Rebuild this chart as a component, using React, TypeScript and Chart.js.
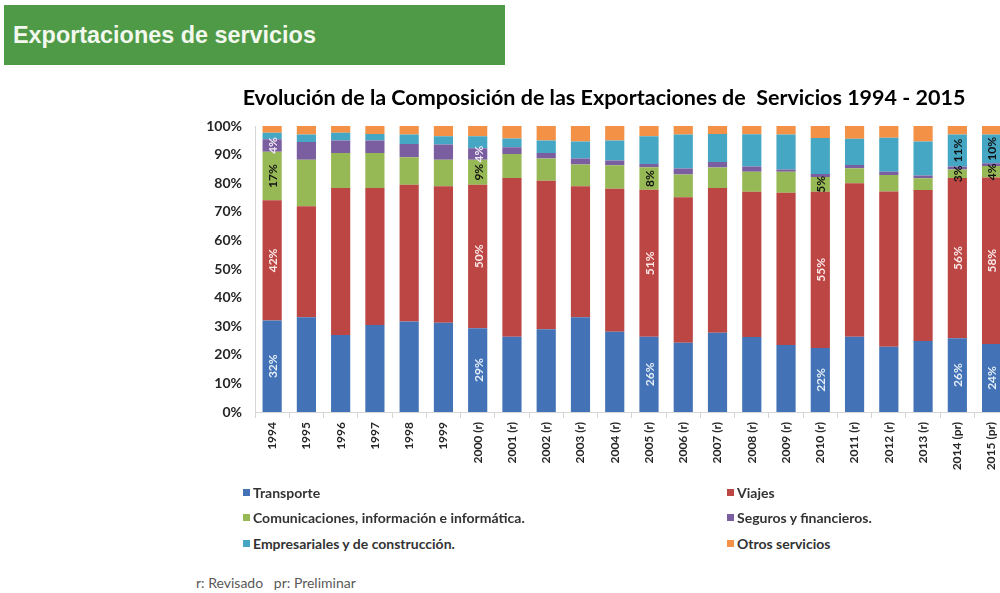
import React, { useEffect, useRef } from "react";
import { Chart, registerables } from "chart.js";

Chart.register(...registerables);

const years = [
  "1994", "1995", "1996", "1997", "1998", "1999",
  "2000 (r)", "2001 (r)", "2002 (r)", "2003 (r)", "2004 (r)", "2005 (r)",
  "2006 (r)", "2007 (r)", "2008 (r)", "2009 (r)", "2010 (r)", "2011 (r)",
  "2012 (r)", "2013 (r)", "2014 (pr)", "2015 (pr)",
];

const transporte = [32.0, 33.1, 26.9, 30.4, 31.6, 31.2, 29.3, 26.3, 28.9, 33.1, 28.1, 26.3, 24.2, 27.7, 26.2, 23.4, 22.4, 26.3, 22.8, 24.8, 25.8, 23.8];
const viajes = [42.0, 38.8, 51.4, 47.9, 47.9, 47.7, 50.2, 55.5, 52.0, 45.8, 50.0, 51.4, 50.9, 50.6, 50.8, 53.3, 54.6, 53.7, 54.3, 52.8, 56.0, 58.2];
const comunicaciones = [17.0, 16.3, 12.3, 12.3, 9.6, 9.3, 8.7, 8.4, 7.7, 7.6, 8.2, 7.9, 7.9, 7.2, 7.0, 7.3, 5.2, 5.2, 5.8, 4.1, 3.0, 4.0];
const seguros = [4.4, 6.2, 4.3, 4.3, 4.6, 5.3, 4.0, 2.4, 2.0, 2.1, 1.6, 1.1, 2.1, 1.9, 1.8, 0.8, 1.0, 1.2, 1.1, 1.0, 1.0, 1.0];
const empresariales = [2.2, 2.6, 2.7, 2.3, 3.3, 2.9, 4.2, 3.0, 4.3, 6.0, 7.0, 9.7, 11.9, 9.8, 11.3, 12.2, 12.6, 9.1, 11.9, 11.9, 11.2, 10.0];
const otros = [2.4, 3.0, 2.4, 2.8, 3.0, 3.6, 3.6, 4.4, 5.1, 5.4, 5.1, 3.6, 3.0, 2.8, 2.9, 3.0, 4.2, 4.5, 4.1, 5.4, 3.0, 3.0];

const seriesNames = [
  "Transporte",
  "Viajes",
  "Comunicaciones, información e informática.",
  "Seguros y financieros.",
  "Empresariales y de construcción.",
  "Otros servicios",
];

// indexes of the bars whose segment carries a value label, per series
const labeledTransporte = [0, 6, 11, 16, 20, 21];
const labeledViajes = [0, 6, 11, 16, 20, 21];
const labeledComunicaciones = [0, 6, 11, 16, 20, 21];
const labeledSeguros = [0, 6];
const labeledEmpresariales = [20, 21];
const labeledOtros: number[] = [];

const yTickValues = [0, 10, 20, 30, 40, 50, 60, 70, 80, 90, 100];

const chartTitle = "Evolución de la Composición de las Exportaciones de  Servicios 1994 - 2015";
const headerText = "Exportaciones de servicios";
const footnote = "r: Revisado   pr: Preliminar";

const colors = ["#4373B6", "#BC4643", "#97B955", "#7B5EA0", "#45A7C4", "#F39146"];
const labelColors = ["#e6eef8", "#fbe9e9", "#111111", "#efe9f7", "#111111", "#111111"];

const FONT = "Lato, 'Open Sans', sans-serif";

const valueLabelPlugin = {
  id: "valueLabels",
  afterDatasetsDraw(chart: any) {
    const lists = [labeledTransporte, labeledViajes, labeledComunicaciones, labeledSeguros, labeledEmpresariales, labeledOtros];
    const ctx = chart.ctx;
    ctx.save();
    ctx.font = `bold 12px ${FONT}`;
    ctx.textAlign = "center";
    ctx.textBaseline = "middle";
    chart.data.datasets.forEach((ds: any, di: number) => {
      const meta = chart.getDatasetMeta(di);
      lists[di].forEach((idx) => {
        const el: any = meta.data[idx];
        if (!el) return;
        const v = ds.data[idx];
        const cy = (el.y + el.base) / 2;
        ctx.save();
        ctx.translate(el.x, cy);
        ctx.rotate(-Math.PI / 2);
        ctx.fillStyle = labelColors[di];
        ctx.fillText(`${Math.round(v)}%`, 0, 1);
        ctx.restore();
      });
    });
    ctx.restore();
  },
};

export default function App() {
  const canvasRef = useRef<HTMLCanvasElement | null>(null);

  useEffect(() => {
    if (!canvasRef.current) return;
    const seriesData = [transporte, viajes, comunicaciones, seguros, empresariales, otros];
    const chart = new Chart(canvasRef.current, {
      type: "bar",
      data: {
        labels: years,
        datasets: seriesData.map((d, i) => ({
          label: seriesNames[i],
          data: d,
          backgroundColor: colors[i],
          borderWidth: 0,
          categoryPercentage: 1,
          barPercentage: 0.56,
        })),
      },
      options: {
        responsive: false,
        animation: false,
        layout: { padding: 0 },
        plugins: {
          legend: { display: false },
          tooltip: { enabled: false },
          title: {
            display: true,
            text: chartTitle,
            color: "#000000",
            font: { family: FONT, size: 21.5, weight: "bold" },
            padding: { top: 15, bottom: 15.2 },
          },
        },
        scales: {
          x: {
            stacked: true,
            grid: { display: true, drawOnChartArea: false, drawTicks: true, tickLength: 6, color: "#d6d6d6" },
            border: { display: true, color: "#d6d6d6" },
            ticks: {
              minRotation: 90,
              maxRotation: 90,
              autoSkip: false,
              padding: 4,
              color: "#262626",
              font: { family: FONT, size: 12, weight: "bold" },
            },
            afterFit: (s: any) => { s.height = 75; },
          },
          y: {
            stacked: true,
            min: 0,
            max: 100,
            grid: { display: false, drawTicks: false },
            border: { display: true, color: "#d6d6d6" },
            afterBuildTicks: (s: any) => { s.ticks = yTickValues.map((v) => ({ value: v })); },
            ticks: {
              padding: 13,
              color: "#262626",
              font: { family: FONT, size: 14, weight: "bold" },
              callback: (v: any) => `${v}%`,
            },
            afterFit: (s: any) => { s.width = 57; },
          },
        },
      },
      plugins: [valueLabelPlugin],
    });
    return () => chart.destroy();
  }, []);

  return (
    <div style={{ position: "fixed", left: 0, top: 0, width: 1000, height: 593, overflow: "hidden", background: "#ffffff" }}>
      <div style={{ position: "absolute", left: 4, top: 5, width: 501, height: 60, background: "#4E9A46" }} />
      <div
        style={{
          position: "absolute", left: 13, top: 22, lineHeight: "23px", whiteSpace: "nowrap",
          font: "bold 23.4px 'Liberation Sans', Arial, sans-serif", color: "#f3f8ef",
        }}
      >
        {headerText}
      </div>
      <div style={{ position: "absolute", left: 198, top: 70, width: 812, height: 417 }}>
        <canvas ref={canvasRef} width={812} height={417} style={{ display: "block" }} />
      </div>
      {seriesNames.map((name, i) => {
        const col = i % 2;
        const row = Math.floor(i / 2);
        const left = col === 0 ? 243 : 727;
        const cy = 492 + row * 25.5;
        return (
          <div key={name} style={{ position: "absolute", left, top: cy - 9, height: 18, display: "flex", alignItems: "center", whiteSpace: "nowrap" }}>
            <span style={{ display: "inline-block", width: 7, height: 7, background: colors[i], marginRight: 3 }} />
            <span style={{ font: `bold 14px ${FONT}`, color: "#333333" }}>{name}</span>
          </div>
        );
      })}
      <div style={{ position: "absolute", left: 196, top: 574, whiteSpace: "pre", font: `14px ${FONT}`, color: "#595959", lineHeight: "18px" }}>
        {footnote}
      </div>
    </div>
  );
}
